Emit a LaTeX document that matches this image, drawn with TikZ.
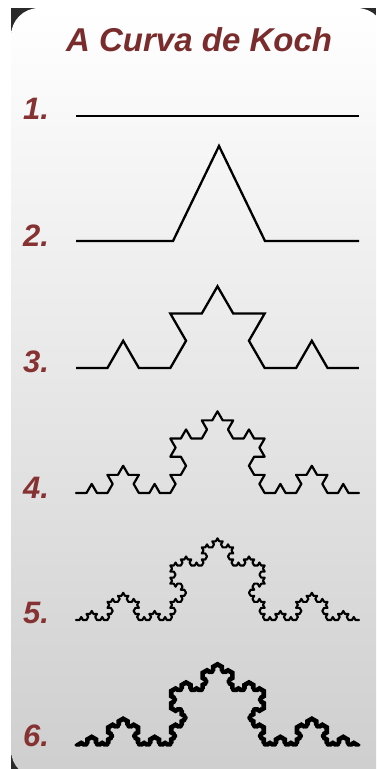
\documentclass[tikz,border=0pt]{standalone}
\usepackage{fontspec}
\setmainfont{Liberation Sans}
\usetikzlibrary{lindenmayersystems}
\pgfdeclarelindenmayersystem{Koch curve}{\rule{F -> F+F--F+F}}
\definecolor{titlered}{RGB}{122,44,44}
\definecolor{labelred}{RGB}{134,50,50}
\definecolor{framedark}{RGB}{42,42,42}
\definecolor{panelbot}{RGB}{206,206,206}
\begin{document}
\begin{tikzpicture}[x=1pt,y=-1pt,
  lbl/.style={anchor=base west, text=labelred, inner sep=0pt,
    font=\fontsize{31}{31}\selectfont\bfseries\itshape},
  kline/.style={draw=black, line width=2.3pt, line join=miter},
  kfine/.style={draw=black, line join=round, line cap=round}]
\useasboundingbox (0,0) rectangle (376,769);
\fill[white] (0,0) rectangle (376,769);
\begin{scope}
  \clip (11,8) rectangle (376,769);
  \fill[framedark] (11,8) rectangle (376,769);
  \shade[top color=white, bottom color=panelbot, rounded corners=28pt] (11,8) rectangle (385,778);
\end{scope}
\node[anchor=base west, text=titlered, inner sep=0pt,
  font=\fontsize{33}{33}\selectfont\bfseries\itshape] (title) at (66,51) {A Curva de Koch};
\node[lbl] (l1) at (23,119) {1.};
\node[lbl] (l2) at (23,246) {2.};
\node[lbl] (l3) at (23,372) {3.};
\node[lbl] (l4) at (23,498) {4.};
\node[lbl] (l5) at (23,623) {5.};
\node[lbl] (l6) at (23,746) {6.};
% curves
\coordinate (c1a) at (76,116);
\coordinate (c1b) at (359,116);
\draw[kline, line width=2.2pt] (c1a) -- (c1b);
\coordinate (c2a) at (76,241);
\coordinate (c2b) at (173,241);
\coordinate (c2c) at (219,146);
\coordinate (c2d) at (265,241);
\coordinate (c2e) at (359,241);
\draw[kline] (c2a) -- (c2b) -- (c2c) -- (c2d) -- (c2e);
\coordinate (c3) at (76,368);
\coordinate (c4) at (76,493);
\coordinate (c5) at (76,620);
\coordinate (c6) at (76,745);
\begin{scope}[shift={(c3)}, y=1pt]
  \draw[kline, l-system={Koch curve, axiom=F, order=2, step=31.444pt, angle=60}] (0,0) lindenmayer system;
\end{scope}
\begin{scope}[shift={(c4)}, y=1pt]
  \draw[kfine, line width=2.2pt, l-system={Koch curve, axiom=F, order=3, step=10.481pt, angle=60}] (0,0) lindenmayer system;
\end{scope}
\begin{scope}[shift={(c5)}, y=1pt]
  \draw[kfine, line width=2.1pt, l-system={Koch curve, axiom=F, order=4, step=3.494pt, angle=60}] (0,0) lindenmayer system;
\end{scope}
\begin{scope}[shift={(c6)}, y=1pt]
  \draw[kfine, line width=3.4pt, l-system={Koch curve, axiom=F, order=5, step=1.1646pt, angle=60}] (0,0) lindenmayer system;
\end{scope}
\end{tikzpicture}
\end{document}
